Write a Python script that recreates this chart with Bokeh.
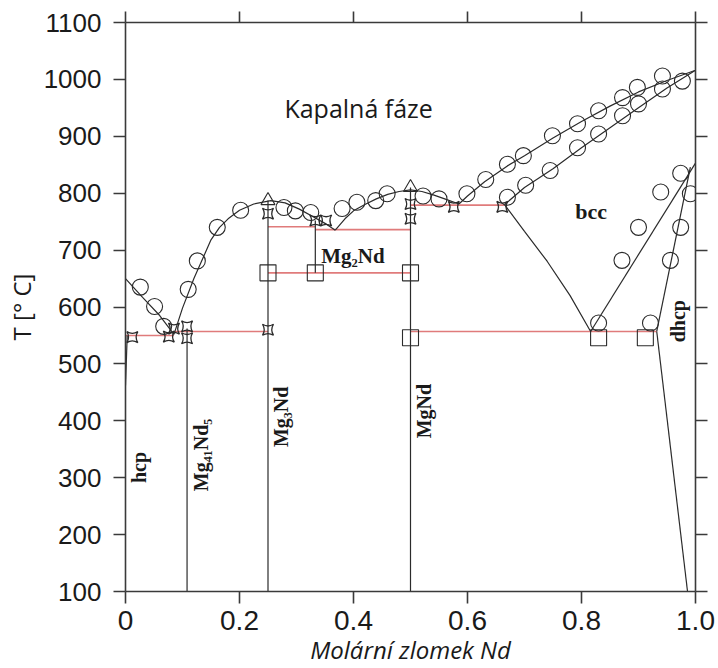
import math
from bokeh.plotting import figure
from bokeh.models import LinearAxis, FixedTicker, CustomJSTickFormatter, Label, Range1d
from bokeh.embed import file_html
from bokeh.resources import INLINE

# ---------------- data ----------------
x_ticks = [0, 0.2, 0.4, 0.6, 0.8, 1.0]
y_ticks = [100, 200, 300, 400, 500, 600, 700, 800, 900, 1000, 1100]

# calculated phase boundaries
liq_mg_x = [0.0, 0.03, 0.06, 0.085]
liq_mg_T = [650, 617, 585, 552]

liq_a_x = [0.085, 0.10, 0.12, 0.15, 0.165, 0.18, 0.20, 0.225, 0.255, 0.28, 0.305, 0.33, 0.35, 0.368]
liq_a_T = [552, 598, 650, 718, 740, 755, 770, 781, 787, 783, 772, 758, 747, 735]

liq_b_x = [0.368, 0.385, 0.40, 0.42, 0.44, 0.46, 0.48, 0.50, 0.52, 0.54, 0.56, 0.585]
liq_b_T = [735, 755, 769, 780, 790, 798, 803, 806, 803, 797, 790, 781]

liq_c_x = [0.585, 0.60, 0.63, 0.67, 0.70, 0.75, 0.80, 0.85, 0.90, 0.95, 1.0]
liq_c_T = [781, 795, 820, 848, 866, 897, 926, 953, 978, 998, 1016]

sol_bcc_x = [0.665, 0.70, 0.75, 0.80, 0.85, 0.90, 0.95, 1.0]
sol_bcc_T = [780, 810, 843, 880, 915, 950, 985, 1016]

bcc_left_x = [0.665, 0.70, 0.74, 0.78, 0.816]
bcc_left_T = [780, 733, 680, 620, 557]

bcc_right_x = [0.816, 1.0]
bcc_right_T = [557, 853]

dhcp_up_x = [0.932, 0.991]
dhcp_up_T = [557, 846]

dhcp_low_x = [0.932, 0.986]
dhcp_low_T = [557, 100]

hcp_x = [0.003, 0.0]
hcp_T = [550, 462]

# stoichiometric compounds (vertical lines)
comp_x = [0.108, 0.25, 0.333, 0.5]
comp_T0 = [100, 100, 660, 100]
comp_T1 = [562, 787, 752, 810]

# invariant reactions (red horizontals)
inv_x0 = [0.0, 0.085, 0.25, 0.333, 0.25, 0.5, 0.5]
inv_x1 = [0.085, 0.25, 0.333, 0.5, 0.5, 0.665, 0.932]
inv_T = [550, 557, 741, 736, 660, 779, 557]

# experimental points
circ_x = [0.026, 0.051, 0.067, 0.110, 0.126, 0.161, 0.202,
          0.278, 0.298, 0.325, 0.380, 0.406, 0.439, 0.459, 0.522, 0.550,
          0.599, 0.632, 0.670, 0.698, 0.749, 0.793, 0.830, 0.872, 0.898, 0.942,
          0.670, 0.702, 0.745, 0.793, 0.830, 0.872, 0.900, 0.942, 0.977,
          0.974, 0.939, 0.991, 0.900, 0.974, 0.871, 0.956, 0.830, 0.921]
circ_T = [635, 601, 566, 631, 681, 740, 770,
          775, 769, 766, 773, 784, 787, 799, 795, 790,
          799, 824, 851, 866, 901, 922, 945, 968, 986, 1006,
          793, 814, 840, 880, 904, 936, 957, 983, 997,
          835, 802, 799, 740, 740, 682, 682, 572, 572]

sq_x = [0.25, 0.333, 0.5, 0.5, 0.83, 0.912]
sq_T = [660, 660, 660, 546, 546, 546]

tri_x = [0.25, 0.5]
tri_T = [787, 810]

hg_x = [0.012, 0.076, 0.085, 0.108, 0.108, 0.25, 0.25, 0.333, 0.352, 0.5, 0.5, 0.576, 0.661]
hg_T = [547, 548, 562, 545, 566, 560, 764, 752, 752, 755, 781, 776, 776]

# ---------------- figure ----------------
p = figure(width=716, height=668, x_range=Range1d(0, 1), y_range=Range1d(100, 1100),
           output_backend="svg", toolbar_location=None,
           min_border_left=125, min_border_right=21, min_border_top=22, min_border_bottom=76)
p.xgrid.visible = False
p.ygrid.visible = False
p.outline_line_color = None
p.background_fill_color = "white"

AX = "#3a3a3a"

def style_axis(ax):
    ax.axis_line_color = AX
    ax.axis_line_width = 1.6
    ax.major_tick_line_color = AX
    ax.major_tick_line_width = 1.6
    ax.major_tick_in = 0
    ax.major_tick_out = 12
    ax.minor_tick_line_color = None

p.xaxis.ticker = FixedTicker(ticks=x_ticks)
p.xaxis.formatter = CustomJSTickFormatter(code="return tick === 0 ? '0' : tick.toFixed(1);")
p.yaxis.ticker = FixedTicker(ticks=y_ticks)
for ax in p.xaxis + p.yaxis:
    style_axis(ax)
    ax.major_label_text_font = "Liberation Sans"
    ax.major_label_text_color = "#1a1a1a"
    ax.axis_label_text_font = "Open Sans"
    ax.axis_label_text_font_size = "24px"
    ax.axis_label_text_color = "#1a1a1a"
p.yaxis.major_label_text_font_size = "26px"
p.yaxis.major_label_standoff = 12
p.xaxis.major_label_text_font_size = "28px"
p.xaxis.major_label_standoff = 7

p.xaxis.axis_label = "Molární zlomek Nd"
p.xaxis.axis_label_text_font_style = "italic"
p.xaxis.axis_label_standoff = 0
p.yaxis.axis_label = "T [° C]"
p.yaxis.axis_label_text_font_style = "normal"
p.yaxis.axis_label_standoff = 3

top = LinearAxis(ticker=FixedTicker(ticks=x_ticks),
                 formatter=CustomJSTickFormatter(code="return '';"),
                 major_label_text_font_size="1px", major_label_standoff=0)
right = LinearAxis(ticker=FixedTicker(ticks=y_ticks),
                   formatter=CustomJSTickFormatter(code="return '';"),
                   major_label_text_font_size="1px", major_label_standoff=0)
style_axis(top)
style_axis(right)
top.major_tick_out = 11
p.add_layout(top, "above")
p.add_layout(right, "right")

LC = "#2b2b2b"
RED = "#e07b7b"

# red invariant lines
p.segment(x0=inv_x0, y0=inv_T, x1=inv_x1, y1=inv_T, line_color=RED, line_width=1.6)

# compound lines
p.segment(x0=comp_x, y0=comp_T0, x1=comp_x, y1=comp_T1, line_color=LC, line_width=1.2)

# phase boundaries
for xs, ts in [(liq_mg_x, liq_mg_T), (liq_a_x, liq_a_T), (liq_b_x, liq_b_T),
               (liq_c_x, liq_c_T), (sol_bcc_x, sol_bcc_T), (bcc_left_x, bcc_left_T),
               (bcc_right_x, bcc_right_T), (dhcp_up_x, dhcp_up_T), (dhcp_low_x, dhcp_low_T),
               (hcp_x, hcp_T)]:
    p.line(xs, ts, line_color=LC, line_width=1.2)

# experimental markers
p.scatter(circ_x, circ_T, marker="circle", size=16, fill_color=None, line_color=LC, line_width=1.1)
p.scatter(sq_x, sq_T, marker="square", size=16, fill_color=None, line_color=LC, line_width=1.1)
p.scatter(tri_x, tri_T, marker="triangle", size=14, fill_color=None, line_color=LC, line_width=1.1)
p.scatter(hg_x, hg_T, marker="square_pin", size=11, fill_color=None, line_color=LC, line_width=1.3)

# ---------------- text ----------------
def lab(x, y, text, size, font="Liberation Serif", style="bold", align="center",
        baseline="middle", angle=0.0, color="#1a1a1a"):
    p.add_layout(Label(x=x, y=y, text=text, text_font=font, text_font_style=style,
                       text_font_size=size, text_align=align, text_baseline=baseline,
                       angle=angle, text_color=color))

lab(0.409, 949, "Kapalná fáze", "25px", font="Open Sans", style="normal", baseline="alphabetic")
lab(0.817, 767, "bcc", "22px", baseline="alphabetic")
lab(0.399, 690, "Mg₂Nd", "21px", baseline="alphabetic")
lab(0.970, 575, "dhcp", "20px", angle=math.pi / 2)
lab(0.023, 318, "hcp", "20px", angle=math.pi / 2)
lab(0.132, 340, "Mg₄₁Nd₅", "20px", angle=math.pi / 2)
lab(0.272, 407, "Mg₃Nd", "20px", angle=math.pi / 2)
lab(0.523, 417, "MgNd", "20px", angle=math.pi / 2)

open("out.html", "w").write(file_html(p, INLINE))
